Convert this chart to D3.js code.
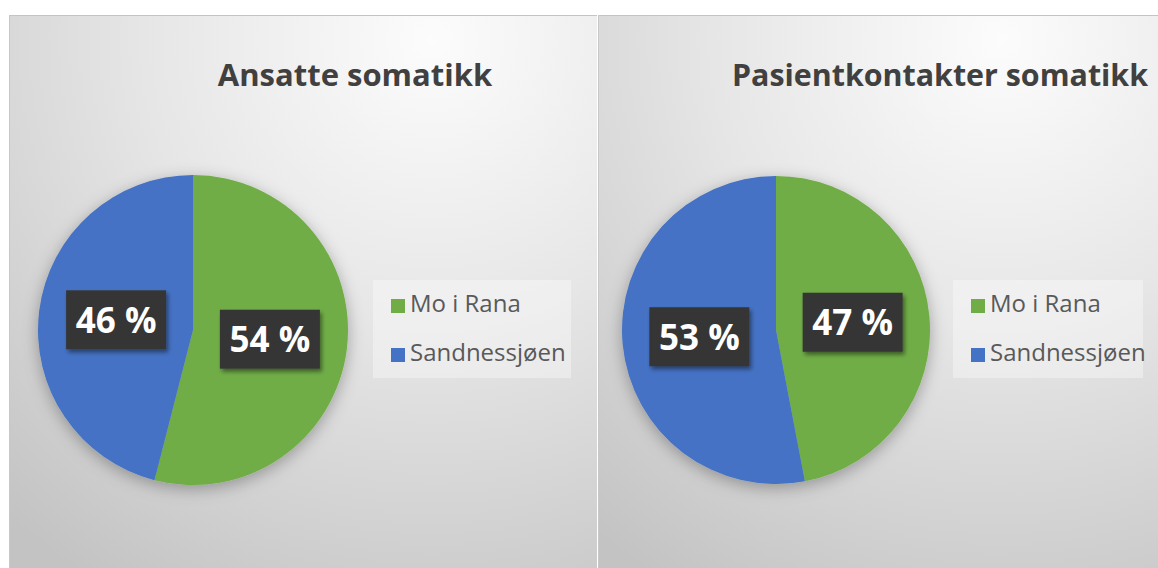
<!DOCTYPE html>
<html>
<head>
<meta charset="utf-8">
<script src="https://cdn.jsdelivr.net/npm/d3@7"></script>
<style>
  body { margin: 0; background: #fff; }
  svg { display: block; }
</style>
</head>
<body>
<div id="chart"></div>
<script>
// Data
var titles = ["Ansatte somatikk", "Pasientkontakter somatikk"];
var categories = ["Mo i Rana", "Sandnessjøen"];
var ansatte = [54, 46];
var pasientkontakter = [47, 53];
var colors = ["#70ad47", "#4472c4"];

var width = 1158, height = 568;

// panel layout
var panels = [
  { x: 9, w: 588, cx: 193, cy: 330, r: 155, titleX: 355, titleSize: 31, legX: 391, values: ansatte },
  { x: 598, w: 560, cx: 776, cy: 330, r: 154, titleX: 940, titleSize: 30.4, legX: 971, values: pasientkontakter }
];

var svg = d3.select("#chart").append("svg")
    .attr("width", width)
    .attr("height", height);

var defs = svg.append("defs");

// soft shadow under the pies
var pieShadow = defs.append("filter").attr("id", "pieShadow")
    .attr("x", "-20%").attr("y", "-20%").attr("width", "140%").attr("height", "140%");
pieShadow.append("feDropShadow")
    .attr("dx", 0).attr("dy", 4).attr("stdDeviation", 8)
    .attr("flood-color", "#000").attr("flood-opacity", 0.3);

var boxShadow = defs.append("filter").attr("id", "boxShadow")
    .attr("x", "-20%").attr("y", "-20%").attr("width", "150%").attr("height", "150%");
boxShadow.append("feDropShadow")
    .attr("dx", 2).attr("dy", 3).attr("stdDeviation", 2)
    .attr("flood-color", "#000").attr("flood-opacity", 0.45);

var pie = d3.pie().sort(null).value(function(d) { return d; });

panels.forEach(function(p, k) {

  // background gradient
  var grad = defs.append("radialGradient")
      .attr("id", "bg" + k)
      .attr("gradientUnits", "userSpaceOnUse")
      .attr("cx", p.x + p.w * 0.72).attr("cy", 40)
      .attr("r", 640);
  grad.append("stop").attr("offset", "0%").attr("stop-color", "#fcfcfc");
  grad.append("stop").attr("offset", "45%").attr("stop-color", "#e6e6e6");
  grad.append("stop").attr("offset", "100%").attr("stop-color", "#c3c3c3");

  var g = svg.append("g");

  g.append("rect")
      .attr("x", p.x).attr("y", 15)
      .attr("width", p.w).attr("height", height - 15)
      .attr("fill", "url(#bg" + k + ")");

  // panel edges
  g.append("line")
      .attr("x1", p.x).attr("x2", p.x + p.w)
      .attr("y1", 15.5).attr("y2", 15.5)
      .attr("stroke", "#c4c4c4");
  g.append("line")
      .attr("x1", p.x + 0.5).attr("x2", p.x + 0.5)
      .attr("y1", 15).attr("y2", height)
      .attr("stroke", "#c8c8c8");

  // title
  g.append("text")
      .attr("x", p.titleX)
      .attr("y", 86)
      .attr("text-anchor", "middle")
      .style("font-family", "'Open Sans', sans-serif")
      .style("font-weight", "bold")
      .style("font-size", p.titleSize + "px")
      .style("fill", "#404040")
      .text(titles[k]);

  // pie
  var arc = d3.arc().innerRadius(0).outerRadius(p.r);
  var arcs = pie(p.values);

  var pg = g.append("g")
      .attr("transform", "translate(" + p.cx + "," + p.cy + ")");

  pg.append("g")
      .attr("filter", "url(#pieShadow)")
    .selectAll("path")
      .data(arcs)
    .enter().append("path")
      .attr("d", arc)
      .attr("fill", function(d, i) { return colors[i]; });

  // data labels
  var lab = pg.selectAll(".lab")
      .data(arcs)
    .enter().append("g")
      .attr("class", "lab")
      .attr("transform", function(d) { return "translate(" + arc.centroid(d) + ")"; });

  lab.append("rect")
      .attr("x", -50).attr("y", -30)
      .attr("width", 100).attr("height", 59)
      .attr("fill", "#363636")
      .attr("filter", "url(#boxShadow)");

  lab.append("text")
      .attr("text-anchor", "middle")
      .attr("dy", "0.36em")
      .style("font-family", "'Open Sans', sans-serif")
      .style("font-weight", "bold")
      .style("font-size", "35px")
      .style("fill", "#fff")
      .text(function(d) { return d.data + " %"; });

  // legend
  var leg = g.append("g");
  leg.append("rect")
      .attr("x", p.legX - 18).attr("y", 280)
      .attr("width", k == 0 ? 198 : 190).attr("height", 98)
      .attr("fill", "#fff").attr("opacity", 0.35);

  var item = leg.selectAll(".item")
      .data(categories)
    .enter().append("g")
      .attr("class", "item")
      .attr("transform", function(d, i) { return "translate(" + p.legX + "," + (299 + i * 49) + ")"; });

  item.append("rect")
      .attr("width", 14).attr("height", 14)
      .attr("fill", function(d, i) { return colors[i]; });

  item.append("text")
      .attr("x", 19).attr("y", 13)
      .style("font-family", "'Open Sans', sans-serif")
      .style("font-size", "24px")
      .style("fill", "#595959")
      .text(function(d) { return d; });
});
</script>
</body>
</html>
